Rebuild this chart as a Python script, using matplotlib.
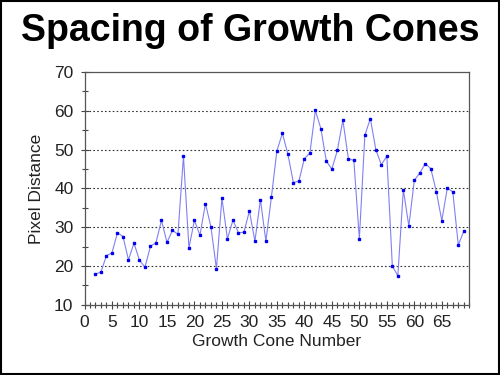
import matplotlib
matplotlib.use('Agg')
import matplotlib.pyplot as plt
from matplotlib.ticker import MultipleLocator
from matplotlib.patches import Rectangle

cone_number = list(range(2, 70))
pixel_distance = [
    17.9, 18.5, 22.7, 23.4, 28.6, 27.6, 21.6, 25.9, 21.5, 19.7,
    25.1, 26.0, 31.8, 26.1, 29.2, 28.2, 48.3, 24.7, 31.8, 27.9,
    36.1, 30.1, 19.3, 37.5, 27.0, 31.8, 28.6, 28.7, 34.2, 26.4,
    37.1, 26.4, 37.8, 49.7, 54.2, 48.8, 41.5, 41.9, 47.7, 49.1,
    60.1, 55.4, 47.0, 45.0, 49.8, 57.6, 47.7, 47.2, 27.0, 53.7,
    58.0, 50.0, 46.1, 48.3, 20.0, 17.5, 39.7, 30.3, 42.1, 44.0,
    46.4, 45.1, 39.2, 31.7, 40.1, 39.1, 25.4, 29.0,
]
x_ticks = list(range(0, 70, 5))
y_ticks = list(range(10, 80, 10))
grid_levels = [20, 30, 40, 50, 60]

plt.rcParams['font.family'] = ['Liberation Sans', 'DejaVu Sans']

fig = plt.figure(figsize=(5, 3.75), dpi=100)
fig.patch.set_facecolor('white')
fig.patches.append(Rectangle((0.002, 0.003), 0.996, 0.994, transform=fig.transFigure,
                             fill=False, edgecolor='black', linewidth=1.5))

ax = fig.add_axes([0.169, 0.187, 0.7696, 0.621])

for lvl in grid_levels:
    ax.axhline(lvl, color='#333333', linestyle=(0, (1.5, 2)), linewidth=0.8, zorder=1)

ax.plot(cone_number, pixel_distance, color='#8080f4', linewidth=0.8, zorder=2)
ax.plot(cone_number, pixel_distance, linestyle='none', marker='s', markersize=1.8,
        color='#0000ee', zorder=3)

ax.set_xlim(0, 70)
ax.set_ylim(10, 70)
ax.set_xticks(x_ticks)
ax.set_yticks(y_ticks)
ax.xaxis.set_minor_locator(MultipleLocator(1))
ax.yaxis.set_minor_locator(MultipleLocator(5))
ax.tick_params(axis='both', which='both', direction='inout', colors='#444444',
               labelcolor='#222222', labelsize=12.5, width=0.8)
ax.tick_params(axis='both', which='major', length=6)
ax.tick_params(axis='both', which='minor', length=5)
ax.tick_params(axis='x', pad=4)
ax.tick_params(axis='y', pad=5)

for side in ['left', 'bottom', 'top', 'right']:
    ax.spines[side].set_color('#555555')
    ax.spines[side].set_linewidth(0.9)

ax.set_xlabel('Growth Cone Number', fontsize=12.5, color='#222222', labelpad=3)
ax.set_ylabel('Pixel Distance', fontsize=12.5, color='#222222', labelpad=7)

fig.text(0.5, 0.918, 'Spacing of Growth Cones', ha='center', va='center',
         fontsize=27, fontweight='bold', color='black')

plt.savefig('out.png', dpi=100, facecolor='white')
plt.close()
